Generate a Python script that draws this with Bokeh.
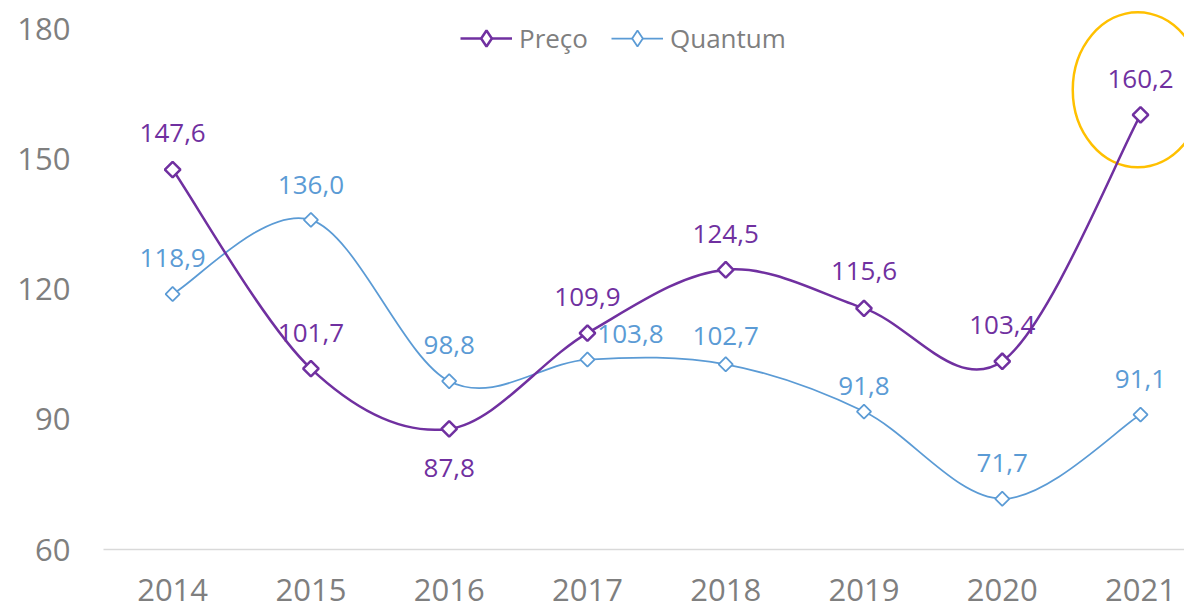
import math
from bokeh.plotting import figure
from bokeh.models import Range1d, FixedTicker, ColumnDataSource, Legend, LegendItem
from bokeh.embed import file_html
from bokeh.resources import INLINE
from bokeh.core.properties import value

# ---------------- data ----------------
years = ["2014", "2015", "2016", "2017", "2018", "2019", "2020", "2021"]
preco = [147.6, 101.7, 87.8, 109.9, 124.5, 115.6, 103.4, 160.2]
quantum = [118.9, 136.0, 98.8, 103.8, 102.7, 91.8, 71.7, 91.1]
y_ticks = [60, 90, 120, 150, 180]

# ---------------- label placement (screen px) ----------------
preco_dx = [0, 0, 0, 0, 0, 0, 0, 0]
preco_dy = [-37, -36, 39, -36, -36, -37, -36, -36]
quantum_dx = [0, 0, 0, 43, 0, 0, 0, 0]
quantum_dy = [-36, -35, -36, -26, -28, -26, -36, -36]

PURPLE = "#7030A0"
BLUE = "#5B9BD5"
GRAY = "#7F7F7F"
GOLD = "#FFC000"
FONT = "Open Sans"

xs = list(range(len(years)))


def bezier_source(ys):
    n = len(ys)
    pts = [(xs[i], ys[i]) for i in range(n)]

    def pt(i):
        return pts[max(0, min(n - 1, i))]

    d = dict(x0=[], y0=[], x1=[], y1=[], cx0=[], cy0=[], cx1=[], cy1=[])
    for i in range(n - 1):
        a, b, c, e = pt(i - 1), pt(i), pt(i + 1), pt(i + 2)
        d["x0"].append(b[0]); d["y0"].append(b[1])
        d["x1"].append(c[0]); d["y1"].append(c[1])
        d["cx0"].append(b[0] + (c[0] - a[0]) / 6.0)
        d["cy0"].append(b[1] + (c[1] - a[1]) / 6.0)
        d["cx1"].append(c[0] - (e[0] - b[0]) / 6.0)
        d["cy1"].append(c[1] - (e[1] - b[1]) / 6.0)
    return ColumnDataSource(d)


def fmt(v):
    return f"{v:.1f}".replace(".", ",")


p = figure(
    width=1184, height=609,
    x_range=Range1d(-0.5, 7.318), y_range=Range1d(60, 184.74),
    output_backend="svg", toolbar_location=None,
    min_border_left=103, min_border_right=0, min_border_top=8, min_border_bottom=60,
)
p.outline_line_color = None
p.background_fill_color = "white"
p.border_fill_color = "white"
p.xgrid.visible = False
p.ygrid.visible = False

# x axis
p.xaxis.ticker = FixedTicker(ticks=xs)
p.xaxis.major_label_overrides = {i: y for i, y in zip(xs, years)}
p.xaxis.axis_line_color = "#D9D9D9"
p.xaxis.axis_line_width = 1.5
p.xaxis.major_tick_line_color = None
p.xaxis.minor_tick_line_color = None
p.xaxis.major_label_text_font = FONT
p.xaxis.major_label_text_font_size = "31px"
p.xaxis.major_label_text_color = GRAY
p.xaxis.major_label_standoff = 23

# y axis
p.yaxis.ticker = FixedTicker(ticks=y_ticks)
p.yaxis.axis_line_color = None
p.yaxis.major_tick_line_color = None
p.yaxis.minor_tick_line_color = None
p.yaxis.major_label_text_font = FONT
p.yaxis.major_label_text_font_size = "31px"
p.yaxis.major_label_text_color = GRAY
p.yaxis.major_label_standoff = 27

# highlight ellipse around last Preço point
p.ellipse(x=[xs[-1] - 0.02], y=[preco[-1] + 5.8], width=130, height=155,
          width_units="screen", height_units="screen",
          fill_color=None, line_color=GOLD, line_width=2.5)

# curves
bq = p.bezier(x0="x0", y0="y0", x1="x1", y1="y1", cx0="cx0", cy0="cy0", cx1="cx1", cy1="cy1",
              source=bezier_source(quantum), line_color=BLUE, line_width=1.75)
bp = p.bezier(x0="x0", y0="y0", x1="x1", y1="y1", cx0="cx0", cy0="cy0", cx1="cx1", cy1="cy1",
              source=bezier_source(preco), line_color=PURPLE, line_width=2.5)

# markers (rotated squares = diamonds)
sq = p.scatter(x=xs, y=quantum, marker="square", angle=math.pi / 4, size=10,
               fill_color="white", line_color=BLUE, line_width=1.75)
sp = p.scatter(x=xs, y=preco, marker="square", angle=math.pi / 4, size=11,
               fill_color="white", line_color=PURPLE, line_width=2.5)

# legend-only diamond markers (legend markers are never rotated)
lq = p.scatter(x=xs, y=quantum, marker="diamond", size=10,
               fill_color="white", line_color=BLUE, line_width=1.75, visible=False)
lp = p.scatter(x=xs, y=preco, marker="diamond", size=11,
               fill_color="white", line_color=PURPLE, line_width=2.5, visible=False)

# data labels
src_pl = ColumnDataSource(dict(x=xs, y=preco, t=[fmt(v) for v in preco], dx=preco_dx, dy=preco_dy))
src_ql = ColumnDataSource(dict(x=xs, y=quantum, t=[fmt(v) for v in quantum], dx=quantum_dx, dy=quantum_dy))
for src, col in ((src_ql, BLUE), (src_pl, PURPLE)):
    p.text(x="x", y="y", text="t", x_offset="dx", y_offset="dy", source=src,
           text_align="center", text_baseline="middle",
           text_font=value(FONT), text_font_size="26px", text_color=col)

legend = Legend(
    items=[LegendItem(label="Preço", renderers=[bp, lp]),
           LegendItem(label="Quantum", renderers=[bq, lq])],
    orientation="horizontal", location=(357, 491),
    glyph_width=52, glyph_height=40, label_height=40, label_standoff=7, spacing=23,
    padding=0, margin=0, border_line_color=None, background_fill_alpha=0,
    label_text_font=FONT, label_text_font_size="26px", label_text_color=GRAY,
)
p.add_layout(legend)

open("out.html", "w").write(file_html(p, INLINE))
